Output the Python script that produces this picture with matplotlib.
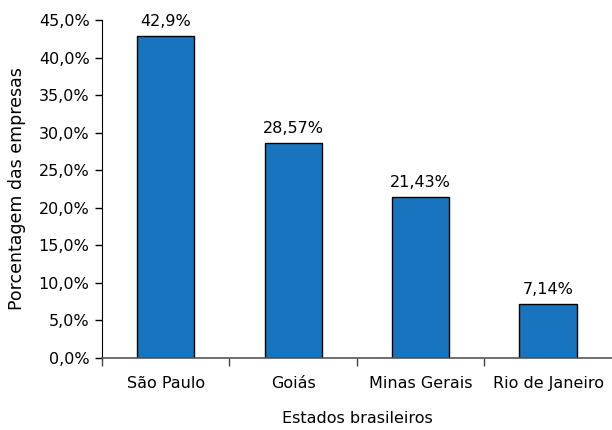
import numpy as np
import matplotlib.pyplot as plt
from matplotlib.ticker import FuncFormatter

estados = ["São Paulo", "Goiás", "Minas Gerais", "Rio de Janeiro"]
porcentagens = [42.9, 28.57, 21.43, 7.14]
rotulos = ["42,9%", "28,57%", "21,43%", "7,14%"]

plt.rcParams['font.family'] = ['DejaVu Sans']
plt.rcParams['font.size'] = 11.5

fig = plt.figure(figsize=(6.12, 4.30), dpi=100)
ax = fig.add_axes([0.1667, 0.1674, 0.833, 0.786])

x = np.arange(len(estados))
bars = ax.bar(x, porcentagens, width=0.45, color='#1874be', edgecolor='black', linewidth=1)

for b, txt in zip(bars, rotulos):
    ax.annotate(txt, (b.get_x() + b.get_width() / 2, b.get_height()),
                xytext=(0, 5), textcoords='offset points',
                ha='center', va='bottom')

ax.set_xlim(-0.5, 3.5)
ax.set_ylim(0, 45)
ax.set_yticks(np.arange(0, 46, 5))
ax.yaxis.set_major_formatter(FuncFormatter(lambda v, p: f"{v:.1f}%".replace('.', ',')))

# category separators as ticks, names centred between them
ax.set_xticks(np.arange(-0.5, 3.5, 1.0))
ax.set_xticklabels([])
ax.set_xticks(x, minor=True)
ax.set_xticklabels(estados, minor=True)
ax.tick_params(axis='x', which='major', length=6, width=1, color='#444444', direction='out')
ax.tick_params(axis='x', which='minor', length=0, pad=13)
ax.tick_params(axis='y', length=5, width=1, direction='out', pad=4)

ax.spines['top'].set_visible(False)
ax.spines['right'].set_visible(False)
ax.spines['bottom'].set_color('#555555')
ax.spines['bottom'].set_linewidth(1.2)

ax.set_ylabel("Porcentagem das empresas", fontsize=12.5, labelpad=9)
ax.set_xlabel("Estados brasileiros", labelpad=14)

fig.savefig("out.png", dpi=100)
